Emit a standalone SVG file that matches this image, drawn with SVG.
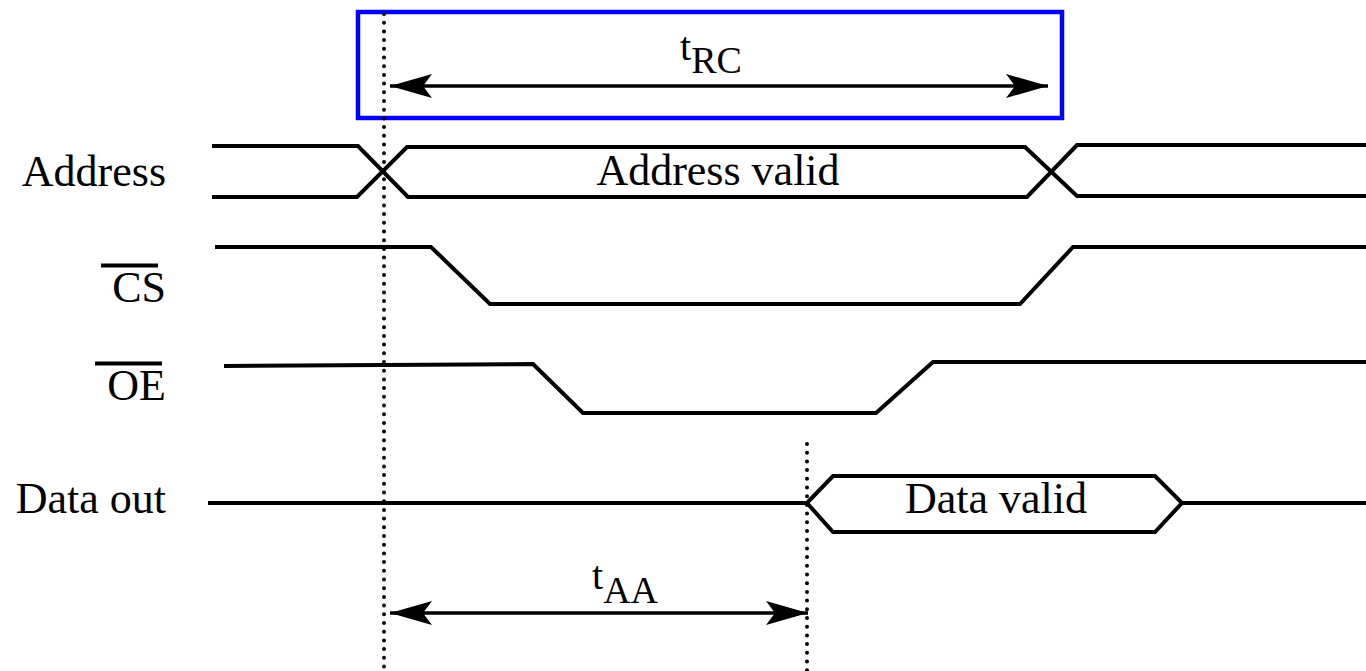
<svg xmlns="http://www.w3.org/2000/svg" width="1366" height="671" viewBox="0 0 1366 671">
  <style>
    .lbl { font-family: "Liberation Serif", "Times New Roman", serif; font-size: 44px; fill: #000; }
    .sub { font-family: "Liberation Serif", "Times New Roman", serif; font-size: 40px; fill: #000; }
    .wave { fill: none; stroke: #000; stroke-width: 4; stroke-linejoin: miter; }
    .dots { fill: none; stroke: #000; stroke-width: 4; stroke-linecap: round; stroke-dasharray: 0 8.7; }
    .dim { fill: none; stroke: #000; stroke-width: 3.5; }
    .bar { stroke: #000; stroke-width: 4; }
  </style>
  <defs>
    <marker id="head" markerUnits="userSpaceOnUse" markerWidth="44" markerHeight="28" viewBox="0 -13 44 26" refX="42" refY="0" orient="auto-start-reverse">
      <path d="M0,-12 L42,0 L0,12 L9,0 Z" fill="#000"/>
    </marker>
  </defs>

  <!-- read-cycle highlight frame -->
  <rect id="trc-frame" x="358" y="12" width="704" height="106" fill="none" stroke="#0000ff" stroke-width="4.5"/>

  <!-- signal names -->
  <g id="labels">
    <text class="lbl" x="166" y="186" text-anchor="end">Address</text>
    <g id="cs-label">
      <text class="lbl" x="166" y="302" text-anchor="end">CS</text>
      <line class="bar" x1="101" y1="265.5" x2="158" y2="265.5"/>
    </g>
    <g id="oe-label">
      <text class="lbl" x="166" y="400" text-anchor="end">OE</text>
      <line class="bar" x1="95" y1="363.5" x2="162" y2="363.5"/>
    </g>
    <text class="lbl" x="166" y="513" text-anchor="end">Data out</text>
  </g>

  <!-- waveforms -->
  <g id="address">
    <path class="wave" d="M212,146 H358 L408,197 H1027 L1077,145 H1366"/>
    <path class="wave" d="M212,197 H357 L407,147 H1025 L1077,196 H1366"/>
    <text class="lbl" x="718" y="185" text-anchor="middle">Address valid</text>
  </g>
  <g id="cs">
    <path class="wave" d="M215,247 H431 L490,304 H1020 L1073,247 H1366"/>
  </g>
  <g id="oe">
    <path class="wave" d="M224,366 L533,364 L583,413 H876 L933,362 H1366"/>
  </g>
  <g id="data-out">
    <path class="wave" d="M208,503 H807 L833,476 H1155 L1182,503 H1366"/>
    <path class="wave" d="M807,503 L833,532 H1155 L1182,503"/>
    <text class="lbl" x="996" y="513" text-anchor="middle">Data valid</text>
  </g>

  <!-- timing references -->
  <g id="connectors">
    <line class="dots" x1="384" y1="14" x2="384" y2="671"/>
    <line class="dots" x1="807" y1="444" x2="807" y2="671"/>
    <line class="dim" x1="390" y1="86" x2="1048" y2="86" marker-start="url(#head)" marker-end="url(#head)"/>
    <line class="dim" x1="390" y1="613" x2="808" y2="613" marker-start="url(#head)" marker-end="url(#head)"/>
  </g>

  <g id="trc-label">
    <text class="sub" x="680" y="60">t<tspan font-size="38" dy="13">RC</tspan></text>
  </g>
  <g id="taa-label">
    <text class="sub" x="592" y="589">t<tspan font-size="38" dy="14">AA</tspan></text>
  </g>
</svg>
